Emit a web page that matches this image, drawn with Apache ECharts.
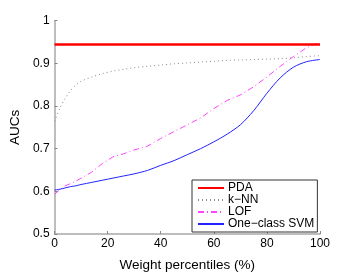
<!DOCTYPE html>
<html><head><meta charset="utf-8">
<script src="https://cdn.jsdelivr.net/npm/echarts@6/dist/echarts.min.js"></script>
<style>html,body{margin:0;padding:0;background:#fff}#c{width:354px;height:277px}</style>
</head><body><div id="c"></div>
<script>
var xValues = [0,2,4,6,8,10,14,18,22,26,30,35,40,45,50,55,60,65,70,75,80,85,90,95,100];
var pda = [0.944,0.944,0.944,0.944,0.944,0.944,0.944,0.944,0.944,0.944,0.944,0.944,0.944,0.944,0.944,0.944,0.944,0.944,0.944,0.944,0.944,0.944,0.944,0.944,0.944];
var knn = [0.764,0.795,0.818,0.836,0.849,0.858,0.868,0.876,0.882,0.886,0.890,0.893,0.896,0.899,0.901,0.903,0.905,0.907,0.908,0.909,0.910,0.911,0.913,0.916,0.918];
var lof = [0.593,0.604,0.613,0.618,0.624,0.631,0.645,0.665,0.681,0.688,0.697,0.706,0.724,0.740,0.756,0.772,0.794,0.813,0.826,0.845,0.868,0.893,0.916,0.937,0.950];
var svm = [0.603,0.605,0.608,0.611,0.613,0.616,0.621,0.626,0.631,0.636,0.641,0.649,0.661,0.672,0.686,0.700,0.716,0.734,0.756,0.789,0.830,0.866,0.891,0.904,0.909];
var seriesNames = ['PDA','k\u2212NN','LOF','One\u2212class SVM'];
var xTickLabels = ['0','20','40','60','80','100'];
var yTickLabels = ['0.5','0.6','0.7','0.8','0.9','1'];
var xTitle = 'Weight percentiles (%)';
var yTitle = 'AUCs';

function pairs(ys){ return xValues.map(function(x,i){ return [x, ys[i]]; }); }
var font = '"Liberation Sans", Arial, Helvetica, sans-serif';
var chart = echarts.init(document.getElementById('c'), null, {renderer:'canvas'});
var axisLine = {lineStyle:{color:'#a8a8a8', width:1.5}};
chart.setOption({
  animation:false,
  backgroundColor:'#fff',
  grid:{left:46, right:34, top:20.7, bottom:31.3, containLabel:false},
  xAxis:{type:'value', min:0, max:100, interval:20,
    name:xTitle, nameLocation:'middle', nameGap:24,
    nameTextStyle:{color:'#000', fontSize:13.5, fontFamily:font},
    axisLine:axisLine,
    axisTick:{inside:true, length:3, lineStyle:{color:'#888'}},
    axisLabel:{color:'#000', fontSize:12, fontFamily:font, margin:4,
      formatter:function(v){ return xTickLabels[Math.round(v/20)]; }},
    splitLine:{show:false}},
  yAxis:{type:'value', min:0.5, max:1, interval:0.1,
    name:yTitle, nameLocation:'middle', nameGap:27, nameRotate:90,
    nameTextStyle:{color:'#000', fontSize:13.5, fontFamily:font},
    axisLine:axisLine,
    axisTick:{inside:true, length:3, lineStyle:{color:'#888'}},
    axisLabel:{color:'#000', fontSize:12, fontFamily:font, margin:5,
      formatter:function(v){ return yTickLabels[Math.round((v-0.5)*10)]; }},
    splitLine:{show:false}},
  legend:{orient:'vertical', left:192, top:180, itemWidth:26, itemHeight:14, itemGap:0,
    padding:[2,3,2,5], borderColor:'#333', borderWidth:1, backgroundColor:'#fff',
    itemStyle:{opacity:0},
    textStyle:{color:'#000', fontSize:12, fontFamily:font, padding:[0,0,0,-1]},
    data:seriesNames},
  series:[
    {name:seriesNames[0], type:'line', data:pairs(pda), symbol:'none', lineStyle:{color:'#ff0000', width:2.5}, itemStyle:{color:'#ff0000'}, z:5},
    {name:seriesNames[1], type:'line', data:pairs(knn), symbol:'none', smooth:0.3, lineStyle:{color:'#8a8a8a', width:1, type:[1,3]}, itemStyle:{color:'#8a8a8a'}},
    {name:seriesNames[2], type:'line', data:pairs(lof), symbol:'none', lineStyle:{color:'#ff44ff', width:1, type:[6,3,1,3]}, itemStyle:{color:'#ff44ff'}},
    {name:seriesNames[3], type:'line', data:pairs(svm), symbol:'none', smooth:0.3, lineStyle:{color:'#2222ff', width:1}, itemStyle:{color:'#2222ff'}}
  ]
});
</script></body></html>
